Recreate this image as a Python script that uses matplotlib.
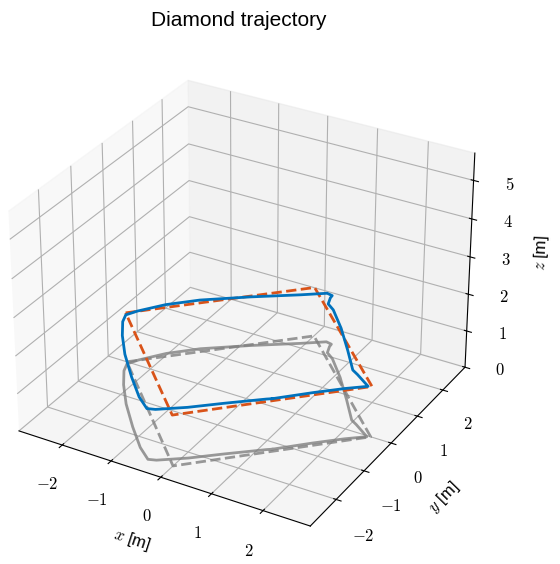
import matplotlib
matplotlib.use('Agg')
import matplotlib.pyplot as plt
from matplotlib.ticker import FuncFormatter

plt.rcParams['font.family'] = ['Liberation Sans', 'DejaVu Sans']
plt.rcParams['mathtext.fontset'] = 'cm'
plt.rcParams['font.size'] = 12

# reference diamond (dashed), flown at constant altitude
ref_x = [-2.5, 0.0, 2.5, 0.0, -2.5]
ref_y = [0.0, 2.5, 0.0, -2.5, 0.0]
ref_z = 1.35

# measured trajectory
traj_x = [1.21, 1.72, 2.13, 2.44, 2.10, 1.96, 1.57, 1.11, 0.68, 0.50, 0.43, 0.42,
          0.30, -0.09, -0.84, -1.58, -2.03, -2.35, -2.46, -2.38, -2.13, -1.75,
          -1.25, -0.79, -0.48, -0.34, 0.10, 0.57, 1.13, 1.21]
traj_y = [-1.20, -0.68, -0.29, -0.03, 0.22, 0.31, 0.85, 1.46, 1.96, 2.10, 2.31, 2.40,
          2.43, 2.14, 1.62, 1.06, 0.61, 0.16, -0.06, -0.29, -0.70, -1.22,
          -1.80, -2.29, -2.54, -2.49, -2.16, -1.74, -1.26, -1.20]
traj_z = 1.35

xticks = [-2, -1, 0, 1, 2]
yticks = [-2, -1, 0, 1, 2]
zticks = [0, 1, 2, 3, 4, 5]

fig = plt.figure(figsize=(5.6, 5.64), dpi=100)
ax = fig.add_axes([-0.036, -0.015, 0.926, 0.968], projection='3d')

# shadows on the floor
ax.plot(traj_x, traj_y, [0] * len(traj_x), color='gray', lw=2, alpha=0.8)
ax.plot(ref_x, ref_y, [0] * len(ref_x), color='gray', lw=2, ls='--', alpha=0.8)

ax.plot(ref_x, ref_y, [ref_z] * len(ref_x), color='#D95319', lw=2, ls='--')
ax.plot(traj_x, traj_y, [traj_z] * len(traj_x), color='#0072BD', lw=2)

ax.set_xlim(-2.9, 2.9)
ax.set_ylim(-2.9, 2.9)
ax.set_zlim(0, 5.7)
ax.set_xticks(xticks)
ax.set_yticks(yticks)
ax.set_zticks(zticks)
fmt = FuncFormatter(lambda v, p: '$%g$' % v)
ax.xaxis.set_major_formatter(fmt)
ax.yaxis.set_major_formatter(fmt)
ax.zaxis.set_major_formatter(fmt)
ax.tick_params(axis='x', pad=8)
ax.tick_params(axis='y', pad=9.5)
ax.tick_params(axis='z', pad=8)
ax.set_xlabel(r'$x$ [m]', labelpad=11)
ax.set_ylabel(r'$y$ [m]', labelpad=14)
ax.set_zlabel(r'$z$ [m]', labelpad=11)
ax.set_title('Diamond trajectory', fontsize=15, pad=10)

plt.savefig('out.png')
